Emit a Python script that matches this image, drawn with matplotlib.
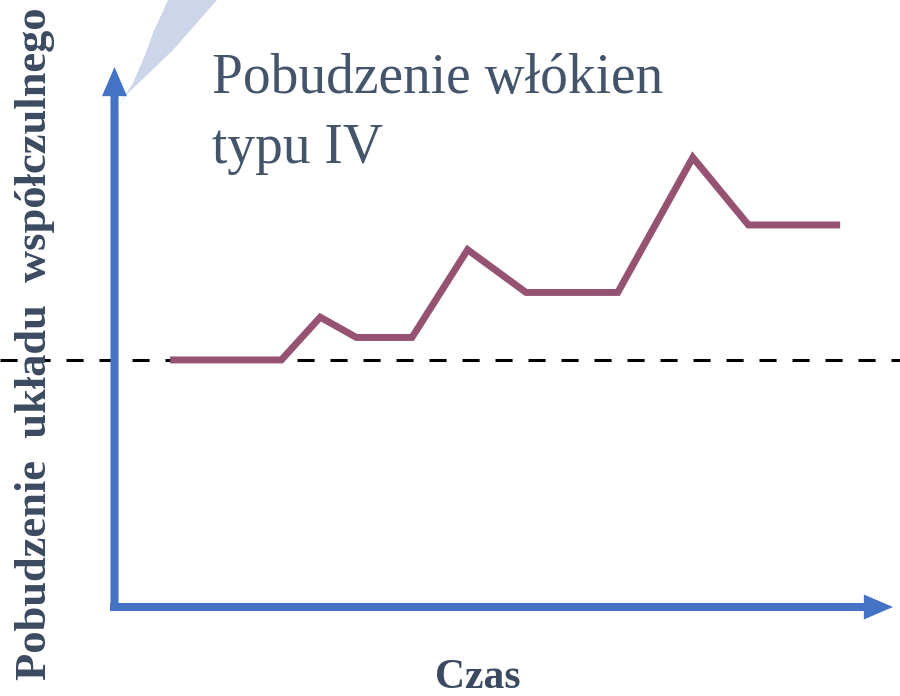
import matplotlib
matplotlib.use("Agg")
import matplotlib.pyplot as plt
from matplotlib.patches import FancyArrowPatch, Polygon
from matplotlib.transforms import blended_transform_factory

# excitation of the sympathetic system over time (arbitrary units, baseline = 0)
times = [1.0, 3.0, 3.7, 4.35, 5.35, 6.35, 7.4, 9.05, 10.4, 11.4, 13.05]
levels = [0, 0, 0.95, 0.5, 0.5, 2.45, 1.5, 1.5, 4.5, 3.0, 3.0]
baseline = 0

title_lines = ["Pobudzenie włókien", "typu IV"]
ylabel = "Pobudzenie  układu  współczulnego"
xlabel = "Czas"

W, H = 900, 696
blue = "#4472c4"
serif = "Liberation Serif"

fig = plt.figure(figsize=(W / 100, H / 100), dpi=100)
ax = fig.add_axes([114.5 / W, 89 / H, (893 - 114.5) / W, (607 - 67) / H])
ax.set_xlim(0, 14)
ax.set_ylim(-5.49, 6.51)
ax.axis("off")

# light blue callout pointer in the top-left corner
pointer = Polygon([(117 / W, 1 - 108 / H), (133 / W, 1 - 83 / H), (145 / W, 1 - 55 / H),
                   (153 / W, 1 - 33 / H), (168 / W, 1.0), (217 / W, 1.0),
                   (173 / W, 1 - 50 / H), (145 / W, 1 - 77 / H), (127 / W, 1 - 94 / H)],
                  closed=True, transform=fig.transFigure, facecolor="#ccd5ea",
                  edgecolor="none", zorder=1)
fig.patches.append(pointer)

# axis arrows
style = "simple,head_length=1.05,head_width=0.9,tail_width=0.29"
yarrow = FancyArrowPatch((114.5 / W, 1 - 611 / H), (114.5 / W, 1 - 67 / H),
                         transform=fig.transFigure, arrowstyle=style, mutation_scale=20,
                         color=blue, lw=0, shrinkA=0, shrinkB=0, zorder=3)
xarrow = FancyArrowPatch((110 / W, 1 - 607 / H), (893 / W, 1 - 607 / H),
                         transform=fig.transFigure, arrowstyle=style, mutation_scale=20,
                         color=blue, lw=0, shrinkA=0, shrinkB=0, zorder=3)
fig.patches.append(yarrow)
fig.patches.append(xarrow)

# dashed baseline across the whole figure
trans = blended_transform_factory(fig.transFigure, ax.transData)
ax.plot([0, 1], [baseline, baseline], transform=trans, color="black", lw=2.2,
        dashes=(5.6, 5.2), clip_on=False, zorder=2)

ax.plot(times, levels, color="#955272", lw=5, solid_capstyle="butt",
        solid_joinstyle="miter", zorder=4)

fig.text(212 / W, 1 - 93 / H, title_lines[0], family=serif, fontsize=40,
         color="#44546a", va="baseline", ha="left")
fig.text(212 / W, 1 - 163 / H, title_lines[1], family=serif, fontsize=40,
         color="#44546a", va="baseline", ha="left")

fig.text(35 / W, 1 - 344 / H, ylabel, family=serif, fontsize=32, fontweight="bold",
         color="#3b4a60", rotation=90, va="center", ha="center")
fig.text(478 / W, 1 - 688 / H, xlabel, family=serif, fontsize=30, fontweight="bold",
         color="#3b4a60", va="baseline", ha="center")

fig.savefig("out.png", dpi=100)
